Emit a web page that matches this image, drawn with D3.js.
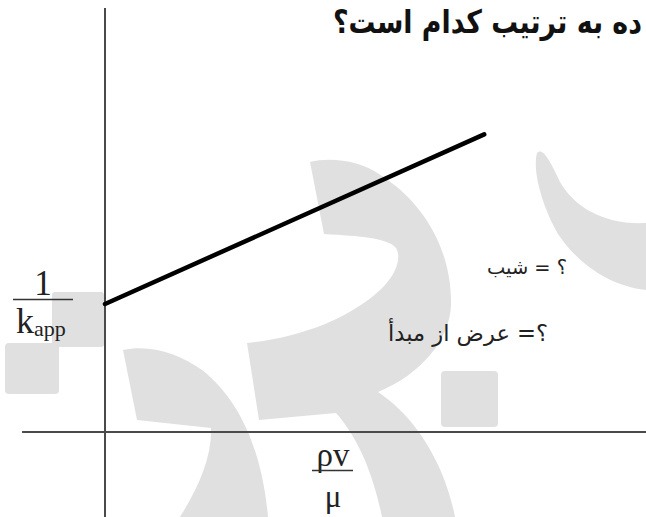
<!DOCTYPE html>
<html>
<head>
<meta charset="utf-8">
<script src="https://cdn.jsdelivr.net/npm/d3@7"></script>
<style>
  html, body { margin: 0; padding: 0; background: #fff; }
  svg { display: block; }
</style>
</head>
<body>
<svg id="chart" width="646" height="517"></svg>
<script>
// ---- data ----
const lineX = [0, 8];          // x values of the straight line
const lineY = [4, 9.3];        // 1/k_app values at those x
const xAxisExtent = [-1.75, 11.6];
const yAxisExtent = [-2.8, 13.25];
const titleText = "ده به ترتیب کدام است؟";
const slopeText = "؟ = شیب";
const interceptText = "؟= عرض از مبدأ";
const yLabelNum = "1";
const yLabelDen = "k";
const yLabelSub = "app";
const xLabelNum = "ρv";
const xLabelDen = "μ";

// ---- layout ----
const W = 646, H = 517;
const svg = d3.select("#chart");
const x = d3.scaleLinear().domain([0, 10]).range([105, 579]);
const y = d3.scaleLinear().domain([0, 10]).range([432, 112]);

// ---- watermark (light gray logo shapes) ----
const wm = svg.append("g").attr("fill", "#e0e0e0");
wm.append("rect").attr("x", 52).attr("y", 292).attr("width", 52).attr("height", 55).attr("rx", 3);
wm.append("rect").attr("x", 5).attr("y", 343).attr("width", 54).attr("height", 51).attr("rx", 4);
wm.append("rect").attr("x", 441).attr("y", 371).attr("width", 57).attr("height", 56).attr("rx", 4);
// upper hook + lower right crescent
wm.append("path").attr("d",
  "M310,162 C330,157 360,160 382,176 C428,206 452,255 451,305 C450,340 420,375 378,392 " +
  "C420,420 446,470 455,517 L382,517 C374,478 360,440 336,413 L259,420 L247,343 " +
  "C300,338 350,318 380,290 C396,275 402,258 396,248 C388,238 360,236 324,234 Z");
// lower left crescent
wm.append("path").attr("d",
  "M123,350 C150,344 180,354 202,370 C238,398 262,448 268,517 L180,517 " +
  "C198,488 212,458 211,428 L137,420 Z");
// right crescent
wm.append("path").attr("d",
  "M537,153 C542,148 548,156 560,182 C575,208 605,225 646,223 L646,290 " +
  "C610,286 578,264 558,234 C543,208 532,172 537,153 Z");

// ---- axes ----
const axisColor = "#4a4a4a";
svg.append("line")
  .attr("x1", x(0)).attr("x2", x(0))
  .attr("y1", y(yAxisExtent[0])).attr("y2", y(yAxisExtent[1]))
  .attr("stroke", axisColor).attr("stroke-width", 2);
svg.append("line")
  .attr("x1", x(xAxisExtent[0])).attr("x2", x(xAxisExtent[1]))
  .attr("y1", y(0)).attr("y2", y(0))
  .attr("stroke", axisColor).attr("stroke-width", 2.2);

// ---- data line ----
const pts = lineX.map((v, i) => [v, lineY[i]]);
svg.append("path")
  .datum(pts)
  .attr("d", d3.line().x(d => x(d[0])).y(d => y(d[1])))
  .attr("fill", "none").attr("stroke", "#000").attr("stroke-width", 4.5)
  .attr("stroke-linecap", "round");

// ---- y label: 1 / k_app ----
const serif = "'Liberation Serif', 'Times New Roman', serif";
svg.append("text").attr("x", 43).attr("y", 295)
  .attr("text-anchor", "middle").attr("font-family", serif).attr("font-size", 35)
  .attr("fill", "#222").text(yLabelNum);
svg.append("line").attr("x1", 13).attr("x2", 73).attr("y1", 299.5).attr("y2", 299.5)
  .attr("stroke", "#333").attr("stroke-width", 1.3);
const kt = svg.append("text").attr("x", 16).attr("y", 333)
  .attr("font-family", serif).attr("fill", "#222");
kt.append("tspan").attr("font-size", 36).text(yLabelDen);
kt.append("tspan").attr("font-size", 22).attr("dy", 3).text(yLabelSub);

// ---- x label: ρv / μ ----
svg.append("text").attr("x", 333).attr("y", 466)
  .attr("text-anchor", "middle").attr("font-family", serif).attr("font-size", 33)
  .attr("fill", "#222").text(xLabelNum);
svg.append("line").attr("x1", 312).attr("x2", 353).attr("y1", 470.5).attr("y2", 470.5)
  .attr("stroke", "#333").attr("stroke-width", 1.3);
svg.append("text").attr("x", 333).attr("y", 507)
  .attr("text-anchor", "middle").attr("font-family", serif).attr("font-size", 31)
  .attr("fill", "#222").text(xLabelDen);

// ---- Persian texts ----
const arab = "'DejaVu Sans', 'Noto Sans', sans-serif";
function fit(t, target) {
  const w = t.node().getComputedTextLength();
  const fs = parseFloat(t.attr("font-size"));
  t.attr("font-size", (fs * target / w).toFixed(2));
}
const title = svg.append("text").attr("x", 0).attr("y", 0)
  .attr("transform", "translate(333,33) scale(1,1.2)")
  .attr("direction", "rtl").attr("text-anchor", "end")
  .attr("font-family", arab).attr("font-weight", "bold").attr("font-size", 26)
  .attr("fill", "#111").text(titleText);
fit(title, 309);

const s1 = svg.append("text").attr("x", 567).attr("y", 274)
  .attr("direction", "rtl").attr("text-anchor", "start")
  .attr("font-family", arab).attr("font-size", 16)
  .attr("fill", "#222").text(slopeText);
fit(s1, 80);

const s2 = svg.append("text").attr("x", 548).attr("y", 341)
  .attr("direction", "rtl").attr("text-anchor", "start")
  .attr("font-family", arab).attr("font-size", 16)
  .attr("fill", "#222").text(interceptText);
fit(s2, 160);
</script>
</body>
</html>
